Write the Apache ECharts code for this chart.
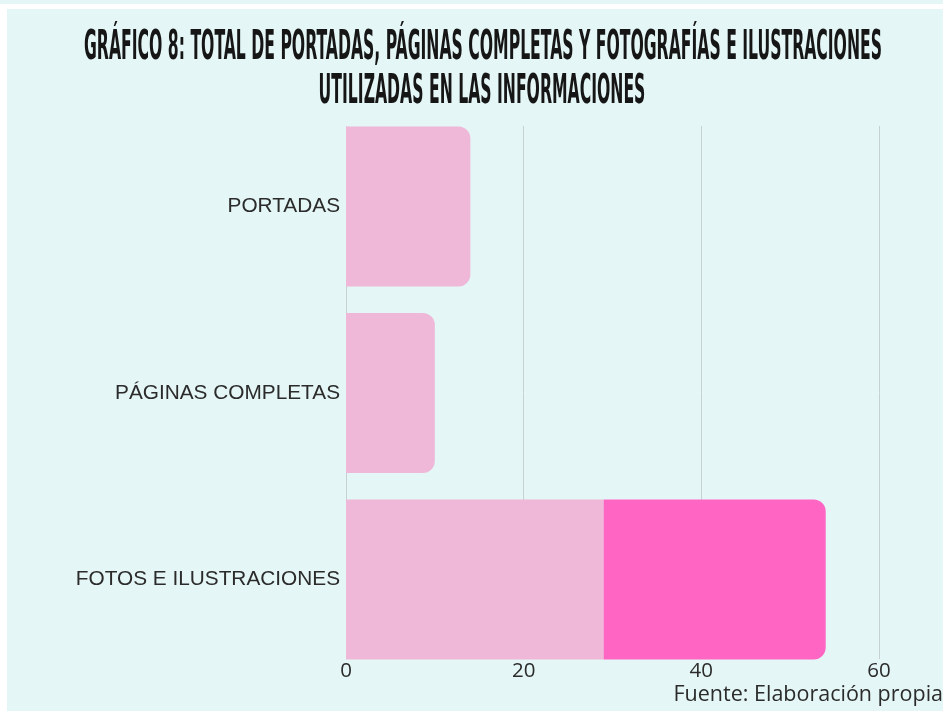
<!DOCTYPE html>
<html>
<head>
<meta charset="utf-8">
<script src="https://cdn.jsdelivr.net/npm/echarts@6/dist/echarts.min.js"></script>
<style>
  html, body { margin: 0; padding: 0; background: #ffffff; }
  #chart { width: 943px; height: 711px; }
</style>
</head>
<body>
<div id="chart"></div>
<script>
// datos
const categorias = ['PORTADAS', 'PÁGINAS COMPLETAS', 'FOTOS E ILUSTRACIONES'];
const valoresBase = [14, 10, 29];
const valoresExtra = ['-', '-', 25];
const ticksX = [0, 20, 40, 60];

const titulo1 = 'GRÁFICO 8: TOTAL DE PORTADAS, PÁGINAS COMPLETAS Y FOTOGRAFÍAS E ILUSTRACIONES';
const titulo2 = 'UTILIZADAS EN LAS INFORMACIONES';
const fuente = 'Fuente: Elaboración propia';

const fondo = '#e4f6f5';
const rosaClaro = '#efb8d8';
const rosaFuerte = '#ff66c4';

// el título original es una fuente muy condensada: se comprime en horizontal
const fuenteTitulo = 'bold 41px "Liberation Sans Narrow", "DejaVu Sans Condensed", "Liberation Sans", sans-serif';
const ctx = document.createElement('canvas').getContext('2d');
ctx.font = fuenteTitulo;
const escala = 798 / ctx.measureText(titulo1).width;

const myChart = echarts.init(document.getElementById('chart'));

const option = {
  backgroundColor: fondo,
  animation: false,
  graphic: [
    // bordes blancos de la captura
    { type: 'rect', shape: { x: 0, y: 4, width: 943, height: 5 }, style: { fill: '#ffffff' }, silent: true },
    { type: 'rect', shape: { x: 0, y: 9, width: 7, height: 702 }, style: { fill: '#ffffff' }, silent: true },
    {
      type: 'text', x: 483, y: 48, scaleX: escala,
      style: { text: titulo1, font: fuenteTitulo, fill: '#161616', textAlign: 'center', textVerticalAlign: 'middle' }
    },
    {
      type: 'text', x: 482, y: 92, scaleX: escala,
      style: { text: titulo2, font: fuenteTitulo, fill: '#161616', textAlign: 'center', textVerticalAlign: 'middle' }
    },
    {
      type: 'text', right: 0, top: 684,
      style: { text: fuente, font: '21.5px "Open Sans", sans-serif', fill: '#2b2b2b' }
    }
  ],
  grid: [
    // barras
    { left: 346, width: 533, top: 113.25, height: 559.5 },
    // rejilla y etiquetas del eje x
    { left: 346, width: 533, top: 126, height: 533 }
  ],
  xAxis: [
    {
      gridIndex: 0, type: 'value', min: 0, max: 60,
      axisLine: { show: false }, axisTick: { show: false },
      axisLabel: { show: false }, splitLine: { show: false }
    },
    {
      gridIndex: 1, type: 'value', min: ticksX[0], max: ticksX[ticksX.length - 1], interval: 20,
      axisLine: { show: false }, axisTick: { show: false },
      axisLabel: { color: '#2b2b2b', fontSize: 20.5, fontFamily: 'Open Sans', margin: 2 },
      splitLine: { show: true, lineStyle: { color: '#c6d2d2', width: 1 } }
    }
  ],
  yAxis: [
    {
      gridIndex: 0, type: 'category', data: categorias, inverse: true,
      axisLine: { show: false }, axisTick: { show: false },
      axisLabel: { color: '#2b2b2b', fontSize: 20.8, fontFamily: 'Liberation Sans', margin: 6 }
    },
    {
      gridIndex: 1, type: 'value', show: false
    }
  ],
  series: [
    {
      name: 'base', type: 'bar', stack: 'total', xAxisIndex: 0, yAxisIndex: 0,
      barWidth: 160,
      data: valoresBase.map((v, i) => ({
        value: v,
        itemStyle: { borderRadius: valoresExtra[i] === '-' ? [0, 12, 12, 0] : 0 }
      })),
      itemStyle: { color: rosaClaro }
    },
    {
      name: 'extra', type: 'bar', stack: 'total', xAxisIndex: 0, yAxisIndex: 0,
      barWidth: 160,
      data: valoresExtra,
      itemStyle: { color: rosaFuerte, borderRadius: [0, 12, 12, 0] }
    }
  ]
};

myChart.setOption(option);
</script>
</body>
</html>
